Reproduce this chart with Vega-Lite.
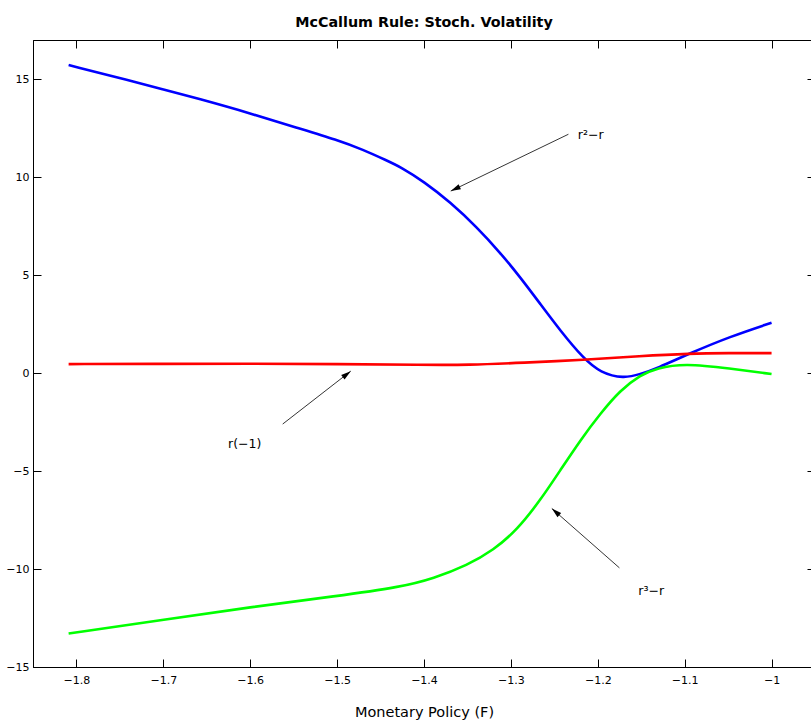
{
  "$schema": "https://vega.github.io/schema/vega-lite/v6.json",
  "autosize": {"type": "none"},
  "width": 782,
  "height": 627,
  "padding": {"left": 33, "top": 40, "right": 0, "bottom": 53},
  "background": "white",
  "title": {"text": "McCallum Rule:  Stoch. Volatility", "font": "DejaVu Sans", "fontSize": 14.3, "fontWeight": "bold", "color": "black", "offset": 9, "anchor": "middle"},
  "config": {
    "view": {"stroke": "black", "strokeWidth": 1},
    "axis": {"grid": false, "domainColor": "black", "tickColor": "black", "labelColor": "black", "labelFont": "DejaVu Sans", "labelFontSize": 11, "titleFont": "DejaVu Sans", "titleFontSize": 14.5, "titleFontWeight": "normal", "titleColor": "black", "tickSize": -8, "tickWidth": 1, "domainWidth": 1}
  },
  "datasets": {
    "curves": [
      {"series": "r2", "x": -1.809, "y": 15.72},
      {"series": "r2", "x": -1.738, "y": 14.92},
      {"series": "r2", "x": -1.70, "y": 14.48},
      {"series": "r2", "x": -1.661, "y": 14.02},
      {"series": "r2", "x": -1.60, "y": 13.26},
      {"series": "r2", "x": -1.546, "y": 12.52},
      {"series": "r2", "x": -1.50, "y": 11.90},
      {"series": "r2", "x": -1.47, "y": 11.40},
      {"series": "r2", "x": -1.443, "y": 10.85},
      {"series": "r2", "x": -1.427, "y": 10.52},
      {"series": "r2", "x": -1.40, "y": 9.77},
      {"series": "r2", "x": -1.37, "y": 8.73},
      {"series": "r2", "x": -1.339, "y": 7.44},
      {"series": "r2", "x": -1.312, "y": 6.13},
      {"series": "r2", "x": -1.289, "y": 4.88},
      {"series": "r2", "x": -1.266, "y": 3.52},
      {"series": "r2", "x": -1.243, "y": 2.16},
      {"series": "r2", "x": -1.2165, "y": 0.75},
      {"series": "r2", "x": -1.197, "y": 0.02},
      {"series": "r2", "x": -1.17, "y": -0.28},
      {"series": "r2", "x": -1.151, "y": -0.05},
      {"series": "r2", "x": -1.132, "y": 0.24},
      {"series": "r2", "x": -1.094, "y": 1.01},
      {"series": "r2", "x": -1.048, "y": 1.86},
      {"series": "r2", "x": -1.0, "y": 2.57},
      {"series": "r1", "x": -1.809, "y": 0.46},
      {"series": "r1", "x": -1.7, "y": 0.47},
      {"series": "r1", "x": -1.6, "y": 0.48},
      {"series": "r1", "x": -1.5, "y": 0.46},
      {"series": "r1", "x": -1.4, "y": 0.42},
      {"series": "r1", "x": -1.35, "y": 0.41},
      {"series": "r1", "x": -1.285, "y": 0.53},
      {"series": "r1", "x": -1.2165, "y": 0.67},
      {"series": "r1", "x": -1.151, "y": 0.87},
      {"series": "r1", "x": -1.094, "y": 1.0},
      {"series": "r1", "x": -1.05, "y": 1.02},
      {"series": "r1", "x": -1.0, "y": 1.02},
      {"series": "r3", "x": -1.809, "y": -13.29},
      {"series": "r3", "x": -1.70, "y": -12.60},
      {"series": "r3", "x": -1.60, "y": -11.94},
      {"series": "r3", "x": -1.50, "y": -11.38},
      {"series": "r3", "x": -1.427, "y": -10.92},
      {"series": "r3", "x": -1.389, "y": -10.48},
      {"series": "r3", "x": -1.35, "y": -9.80},
      {"series": "r3", "x": -1.32, "y": -9.03},
      {"series": "r3", "x": -1.293, "y": -8.01},
      {"series": "r3", "x": -1.266, "y": -6.48},
      {"series": "r3", "x": -1.243, "y": -4.95},
      {"series": "r3", "x": -1.22, "y": -3.42},
      {"series": "r3", "x": -1.197, "y": -2.06},
      {"series": "r3", "x": -1.174, "y": -0.87},
      {"series": "r3", "x": -1.151, "y": -0.10},
      {"series": "r3", "x": -1.132, "y": 0.26},
      {"series": "r3", "x": -1.10, "y": 0.50},
      {"series": "r3", "x": -1.048, "y": 0.24},
      {"series": "r3", "x": -1.0, "y": -0.05}
    ],
    "arrows": [
      {"id": "a", "x": -1.2338, "y": 12.19, "x2": -1.3692, "y2": 9.29},
      {"id": "b", "x": -1.5626, "y": -2.60, "x2": -1.4843, "y2": 0.10},
      {"id": "c", "x": -1.1751, "y": -9.94, "x2": -1.2529, "y2": -6.91}
    ],
    "labels": [
      {"label": "r²−r", "x": -1.2230, "y": 11.95},
      {"label": "r(−1)", "x": -1.6255, "y": -3.8},
      {"label": "r³−r", "x": -1.1533, "y": -11.33}
    ]
  },
  "layer": [
    {
      "data": {"name": "curves"},
      "mark": {"type": "line", "strokeWidth": 2.6, "interpolate": "basis"},
      "encoding": {
        "x": {"field": "x", "type": "quantitative", "scale": {"domain": [-1.85, -0.95], "nice": false, "zero": false},
              "axis": {"orient": "bottom", "title": "Monetary Policy (F)", "values": [-1.8, -1.7, -1.6, -1.5, -1.4, -1.3, -1.2, -1.1, -1.0], "format": "~g", "labelPadding": 15, "titlePadding": 20}},
        "y": {"field": "y", "type": "quantitative", "scale": {"domain": [-15, 17], "nice": false, "zero": false},
              "axis": {"orient": "left", "title": null, "values": [-15, -10, -5, 0, 5, 10, 15], "format": "d", "labelPadding": 12}},
        "color": {"field": "series", "type": "nominal", "scale": {"domain": ["r2", "r1", "r3"], "range": ["#0000ff", "#ff0000", "#00ff00"]}, "legend": null}
      }
    },
    {
      "data": {"name": "curves"},
      "mark": {"type": "point", "opacity": 0},
      "encoding": {
        "x": {"field": "x", "type": "quantitative", "axis": {"orient": "top", "title": null, "labels": false, "values": [-1.8, -1.7, -1.6, -1.5, -1.4, -1.3, -1.2, -1.1, -1.0]}},
        "y": {"field": "y", "type": "quantitative", "axis": {"orient": "right", "title": null, "labels": false, "values": [-15, -10, -5, 0, 5, 10, 15]}}
      }
    },
    {
      "data": {"name": "arrows"},
      "mark": {"type": "rule", "color": "black", "strokeWidth": 0.8},
      "encoding": {
        "x": {"field": "x", "type": "quantitative", "axis": null},
        "y": {"field": "y", "type": "quantitative", "axis": null},
        "x2": {"field": "x2"},
        "y2": {"field": "y2"}
      }
    },
    {
      "data": {"name": "arrows"},
      "transform": [{"filter": "datum.id === 'a'"}],
      "mark": {"type": "point", "shape": "M0,0L0.55,2L-0.55,2Z", "filled": true, "color": "black", "size": 100, "angle": 244.3, "opacity": 1},
      "encoding": {"x": {"field": "x2", "type": "quantitative", "axis": null}, "y": {"field": "y2", "type": "quantitative", "axis": null}}
    },
    {
      "data": {"name": "arrows"},
      "transform": [{"filter": "datum.id === 'b'"}],
      "mark": {"type": "point", "shape": "M0,0L0.55,2L-0.55,2Z", "filled": true, "color": "black", "size": 100, "angle": 52.1, "opacity": 1},
      "encoding": {"x": {"field": "x2", "type": "quantitative", "axis": null}, "y": {"field": "y2", "type": "quantitative", "axis": null}}
    },
    {
      "data": {"name": "arrows"},
      "transform": [{"filter": "datum.id === 'c'"}],
      "mark": {"type": "point", "shape": "M0,0L0.55,2L-0.55,2Z", "filled": true, "color": "black", "size": 100, "angle": 311.3, "opacity": 1},
      "encoding": {"x": {"field": "x2", "type": "quantitative", "axis": null}, "y": {"field": "y2", "type": "quantitative", "axis": null}}
    },
    {
      "data": {"name": "labels"},
      "mark": {"type": "text", "align": "left", "baseline": "alphabetic", "font": "DejaVu Sans", "fontSize": 12.5, "color": "black"},
      "encoding": {
        "x": {"field": "x", "type": "quantitative", "axis": null},
        "y": {"field": "y", "type": "quantitative", "axis": null},
        "text": {"field": "label"}
      }
    }
  ]
}
